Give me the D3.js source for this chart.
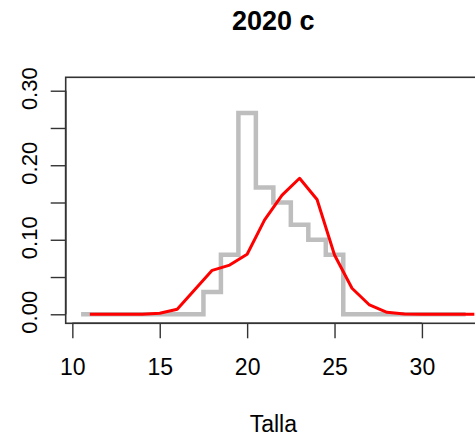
<!DOCTYPE html>
<html>
<head>
<meta charset="utf-8">
<script src="https://cdn.jsdelivr.net/npm/d3@7"></script>
<style>
  html, body { margin: 0; padding: 0; background: #fff; }
  svg { display: block; font-family: "Liberation Sans", Arial, sans-serif; }
</style>
</head>
<body>
<svg id="chart" width="475" height="442"></svg>
<script>
// Observed length-frequency (step outline, bins centred on half units)
const obsTalla = [10.5, 11.5, 12.5, 13.5, 14.5, 15.5, 16.5, 17.5, 18.5, 19.5, 20.5, 21.5,
                  22.5, 23.5, 24.5, 25.5, 26.5, 27.5, 28.5, 29.5, 30.5, 31.5, 32.5];
const obsFreq  = [0, 0, 0, 0, 0, 0, 0, 0.03, 0.08, 0.27, 0.17, 0.15,
                  0.12, 0.10, 0.08, 0, 0, 0, 0, 0, 0, 0, 0];

// Predicted length-frequency (red curve)
const predTalla = [11, 12, 13, 14, 15, 16, 17, 18, 19, 20, 21, 22,
                   23, 24, 25, 26, 27, 28, 29, 30, 31, 32, 33];
const predFreq  = [0, 0, 0, 0, 0.0013, 0.0067, 0.033, 0.059, 0.066, 0.0805, 0.1266, 0.160,
                   0.1825, 0.154, 0.0796, 0.0349, 0.0125, 0.0027, 0.0003, 0, 0, 0, 0];

const xTicks = [10, 15, 20, 25, 30];
const xTickLabels = ["10", "15", "20", "25", "30"];
const yTicks = [0, 0.05, 0.10, 0.15, 0.20, 0.25, 0.30];
const yTickLabels = ["0.00", "", "0.10", "", "0.20", "", "0.30"];

const titleText = "2020 c";
const xLabelText = "Talla";

// Plot region
const plotLeft = 65.7, plotRight = 481, plotTop = 77.3, plotBottom = 323.3;
const svg = d3.select("#chart");

const x = d3.scaleLinear().domain([9.62, 33.38]).range([plotLeft, plotRight]);
const y = d3.scaleLinear().domain([-0.0121, 0.318]).range([plotBottom, plotTop]);

svg.append("defs").append("clipPath").attr("id", "plotclip")
  .append("rect").attr("x", plotLeft).attr("y", plotTop)
  .attr("width", plotRight - plotLeft).attr("height", plotBottom - plotTop);

const plot = svg.append("g").attr("clip-path", "url(#plotclip)");

// Observed: step line
const stepLine = d3.line()
  .x((d, i) => x(obsTalla[i]))
  .y(d => y(d))
  .curve(d3.curveStepAfter);
plot.append("path")
  .datum(obsFreq)
  .attr("d", stepLine)
  .attr("fill", "none")
  .attr("stroke", "#bebebe")
  .attr("stroke-width", 4.5)
  .attr("stroke-linejoin", "miter")
  .attr("stroke-linecap", "butt");

// Predicted: red line
const predLine = d3.line()
  .x((d, i) => x(predTalla[i]))
  .y(d => y(d));
plot.append("path")
  .datum(predFreq)
  .attr("d", predLine)
  .attr("fill", "none")
  .attr("stroke", "#ff0000")
  .attr("stroke-width", 3)
  .attr("stroke-linejoin", "round");

// Box
svg.append("rect")
  .attr("x", plotLeft).attr("y", plotTop)
  .attr("width", plotRight - plotLeft).attr("height", plotBottom - plotTop)
  .attr("fill", "none").attr("stroke", "#333").attr("stroke-width", 1.6);

// X axis
const xAxis = svg.append("g")
  .attr("transform", `translate(0,${plotBottom})`)
  .call(d3.axisBottom(x).tickValues(xTicks).tickFormat((d, i) => xTickLabels[i])
    .tickSize(15).tickSizeOuter(0).tickPadding(20));
xAxis.select(".domain").remove();
xAxis.append("line")
  .attr("x1", x(xTicks[0])).attr("x2", x(xTicks[xTicks.length - 1]))
  .attr("stroke", "#333").attr("stroke-width", 1.6);
xAxis.selectAll(".tick line").attr("stroke", "#333").attr("stroke-width", 1.4);
xAxis.selectAll(".tick text")
  .attr("font-size", 23).attr("fill", "#000")
  .attr("font-family", "Liberation Sans, Arial, sans-serif");

// Y axis
const yAxis = svg.append("g")
  .attr("transform", `translate(${plotLeft},0)`)
  .call(d3.axisLeft(y).tickValues(yTicks).tickFormat(() => "")
    .tickSize(15).tickSizeOuter(0));
yAxis.select(".domain").remove();
yAxis.append("line")
  .attr("y1", y(yTicks[0])).attr("y2", y(yTicks[yTicks.length - 1]))
  .attr("stroke", "#333").attr("stroke-width", 1.6);
yAxis.selectAll(".tick line").attr("stroke", "#333").attr("stroke-width", 1.4);

svg.append("g").selectAll("text")
  .data(yTicks)
  .join("text")
  .attr("transform", d => `translate(36.5,${y(d) - 2}) rotate(-90)`)
  .attr("text-anchor", "middle")
  .attr("font-size", 22)
  .attr("fill", "#000")
  .text((d, i) => yTickLabels[i]);

// Title
svg.append("text")
  .attr("x", (plotLeft + plotRight) / 2).attr("y", 30)
  .attr("text-anchor", "middle")
  .attr("font-size", 27).attr("font-weight", "bold")
  .attr("fill", "#000")
  .text(titleText);

// X axis label
svg.append("text")
  .attr("x", (plotLeft + plotRight) / 2).attr("y", 432)
  .attr("text-anchor", "middle")
  .attr("font-size", 23)
  .attr("fill", "#000")
  .text(xLabelText);
</script>
</body>
</html>
